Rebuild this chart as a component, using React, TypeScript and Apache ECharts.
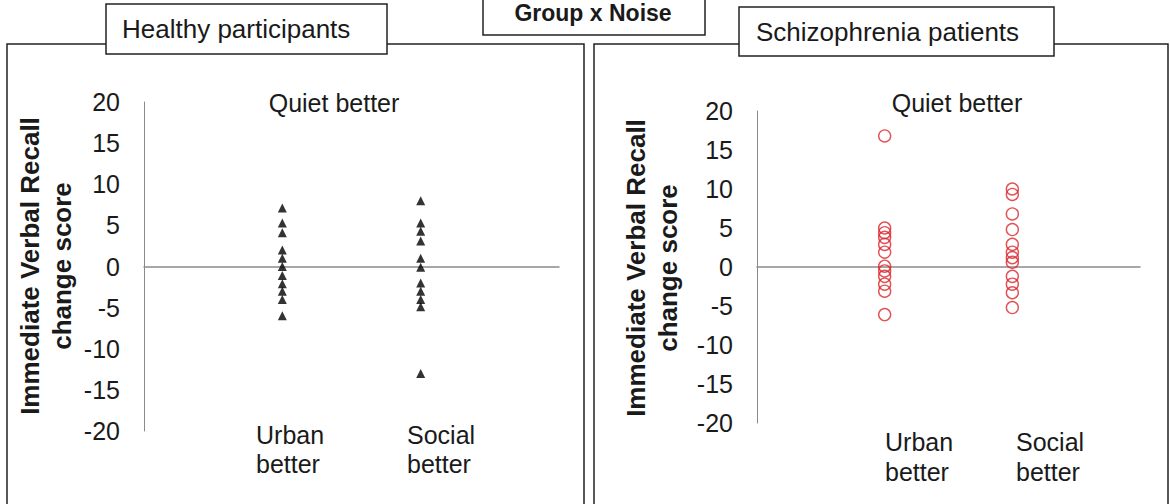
import React, { useEffect, useRef } from "react";
import * as echarts from "echarts";

// ---- data ----
const groupTitle = "Group x Noise";
const panelTitles = ["Healthy participants", "Schizophrenia patients"];
const yAxisTitle = "Immediate Verbal Recall\nchange score";
const topLabel = "Quiet better";
const conditionLabels = ["Urban\nbetter", "Social\nbetter"];
const conditionX = [1, 2];

const healthyUrban = [7.1, 5.3, 4.1, 2.0, 1.0, 0, -1.1, -2.1, -3.0, -4.0, -6.0];
const healthySocial = [8.0, 5.3, 4.3, 3.1, 1.0, -0.1, -2.0, -3.0, -4.0, -4.9, -13.0];
const patientUrban = [16.8, 5.0, 4.4, 3.8, 2.9, 1.9, 0.1, -0.5, -1.2, -2.2, -3.1, -6.1];
const patientSocial = [10.0, 9.3, 6.8, 4.8, 2.9, 1.9, 1.2, 0.6, -1.2, -2.2, -3.3, -5.2];

const yMin = -20;
const yMax = 20;
const yStep = 5;

const FONT = "'Liberation Sans', Arial, sans-serif";
const TXT = "#1a1a1a";

function pts(x: number, vals: number[]) {
  return vals.map((v) => [x, v]);
}

export default function App() {
  const ref = useRef<HTMLDivElement>(null);

  useEffect(() => {
    if (!ref.current) return;
    const chart = echarts.init(ref.current, undefined, { renderer: "svg" });

    const grids = [
      { left: 144, right: 1170 - 559, top: 102, bottom: 504 - 431 },
      { left: 757, right: 1170 - 1140, top: 111, bottom: 504 - 423 },
    ];

    const yAxes = grids.map((_, i) => ({
      type: "value" as const,
      gridIndex: i,
      min: yMin,
      max: yMax,
      interval: yStep,
      axisLine: { show: true, lineStyle: { color: "#8a8a8a", width: 1 } },
      axisTick: { show: false },
      splitLine: { show: false },
      axisLabel: { color: TXT, fontSize: 25, fontFamily: FONT, margin: 24 },
    }));

    const xAxes = grids.map((_, i) => ({
      type: "value" as const,
      gridIndex: i,
      min: 0,
      max: 3,
      interval: 1,
      axisLine: { show: true, onZero: true, lineStyle: { color: "#8a8a8a", width: 1.5 } },
      axisTick: { show: false },
      axisLabel: { show: false },
      splitLine: { show: false },
    }));

    const triangle = {
      type: "scatter" as const,
      symbol: "triangle",
      symbolSize: [9, 9],
      itemStyle: { color: "#000" },
      z: 5,
    };
    const circle = {
      type: "scatter" as const,
      symbol: "circle",
      symbolSize: 12,
      itemStyle: { color: "rgba(255,255,255,0)", borderColor: "#d9262b", borderWidth: 1.4 },
      z: 5,
    };

    const series = [
      { ...triangle, name: "Healthy urban", xAxisIndex: 0, yAxisIndex: 0, data: pts(conditionX[0], healthyUrban) },
      { ...triangle, name: "Healthy social", xAxisIndex: 0, yAxisIndex: 0, data: pts(conditionX[1], healthySocial) },
      { ...circle, name: "Patient urban", xAxisIndex: 1, yAxisIndex: 1, data: pts(conditionX[0], patientUrban) },
      { ...circle, name: "Patient social", xAxisIndex: 1, yAxisIndex: 1, data: pts(conditionX[1], patientSocial) },
    ];

    const boxStyle = { fill: "#fff", stroke: "#222", lineWidth: 1.5 };
    const plainText = (x: number, y: number, text: string, extra: any = {}) => ({
      type: "text",
      x,
      y,
      z: 20,
      style: {
        text,
        fill: TXT,
        fontSize: 25,
        fontFamily: FONT,
        textAlign: "center",
        textVerticalAlign: "middle",
        ...extra,
      },
    });

    const graphic: any[] = [
      // panel frames
      { type: "rect", z: 1, shape: { x: 7, y: 44, width: 577, height: 480 }, style: { fill: "none", stroke: "#222", lineWidth: 1.5 } },
      { type: "rect", z: 1, shape: { x: 594, y: 44, width: 574, height: 480 }, style: { fill: "none", stroke: "#222", lineWidth: 1.5 } },
      // title boxes
      { type: "rect", z: 10, shape: { x: 483, y: -2, width: 222, height: 37 }, style: boxStyle },
      { type: "rect", z: 10, shape: { x: 106, y: 4, width: 281, height: 50 }, style: boxStyle },
      { type: "rect", z: 10, shape: { x: 739, y: 7, width: 315, height: 49 }, style: boxStyle },
      plainText(593, 13, groupTitle, { fontWeight: "bold", fontSize: 23 }),
      plainText(122, 29, panelTitles[0], { textAlign: "left", fontSize: 26 }),
      plainText(756, 32, panelTitles[1], { textAlign: "left", fontSize: 26 }),
      // "Quiet better"
      plainText(334, 103, topLabel),
      plainText(957, 103, topLabel),
      // condition labels
      plainText(256, 449, conditionLabels[0], { textAlign: "left", lineHeight: 29 }),
      plainText(407, 449, conditionLabels[1], { textAlign: "left", lineHeight: 29 }),
      plainText(885, 457, conditionLabels[0], { textAlign: "left", lineHeight: 30 }),
      plainText(1016, 457, conditionLabels[1], { textAlign: "left", lineHeight: 30 }),
      // y axis titles
      {
        ...plainText(46, 266, yAxisTitle, { fontWeight: "bold", fontSize: 26, lineHeight: 32 }),
        rotation: Math.PI / 2,
      },
      {
        ...plainText(652, 268, yAxisTitle, { fontWeight: "bold", fontSize: 26, lineHeight: 32 }),
        rotation: Math.PI / 2,
      },
    ];

    chart.setOption({
      animation: false,
      backgroundColor: "#fff",
      grid: grids,
      xAxis: xAxes,
      yAxis: yAxes,
      series,
      graphic,
    });

    return () => chart.dispose();
  }, []);

  return (
    <div
      ref={ref}
      style={{ position: "fixed", left: 0, top: 0, width: 1170, height: 504 }}
    />
  );
}
